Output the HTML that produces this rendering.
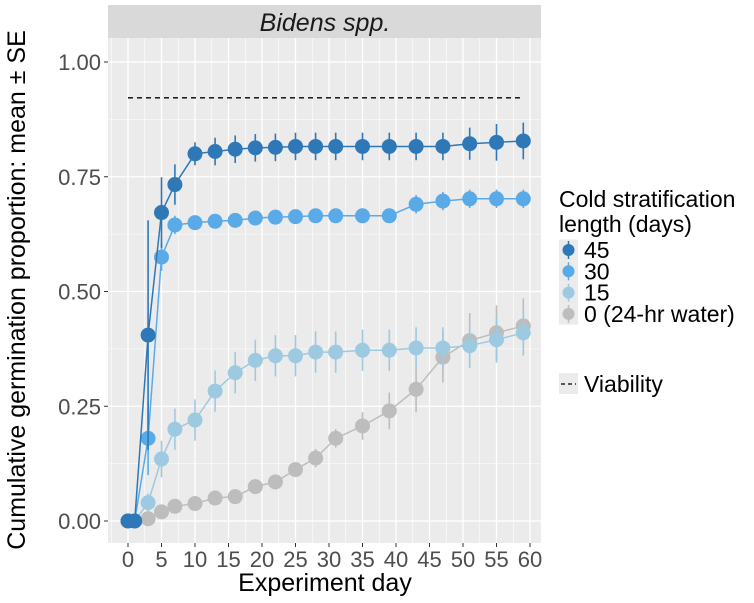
<!DOCTYPE html>
<html><head><meta charset="utf-8"><style>
body{margin:0;background:#fff;}
svg{display:block;font-family:"Liberation Sans",Arial,sans-serif;}
</style></head><body>
<svg id="chart" width="754" height="603" viewBox="0 0 754 603" xmlns="http://www.w3.org/2000/svg">
<rect x="108" y="38" width="433" height="505" fill="#ebebeb"/>
<rect x="108" y="5" width="433" height="33" fill="#d9d9d9"/>
<text x="325" y="31" font-size="25" font-style="italic" text-anchor="middle" fill="#1a1a1a">Bidens spp.</text>
<g id="grid"></g>
<g id="axes"></g>
<g id="series"></g>
<text transform="translate(25,290) rotate(-90)" font-size="25" text-anchor="middle" fill="#000">Cumulative germination proportion: mean ± SE</text>
<text x="325" y="591" font-size="25" text-anchor="middle" fill="#000">Experiment day</text>
<g>
<text x="559" y="207" font-size="23" fill="#000">Cold stratification</text>
<text x="559" y="232" font-size="23" fill="#000">length (days)</text>
<g id="legend-items"></g>
<rect x="559" y="373" width="19" height="21" fill="#ebebeb"/>
<line x1="561" y1="384" x2="576" y2="384" stroke="#000" stroke-width="1.2" stroke-dasharray="4,3"/>
<text x="584" y="392" font-size="23" fill="#000">Viability</text>
</g>
</svg>
<script>
const days = [0,1,3,5,7,10,13,16,19,22,25,28,31,35,39,43,47,51,55,59];
const s45 = [0,0,0.405,0.672,0.733,0.800,0.805,0.810,0.813,0.814,0.816,0.816,0.816,0.816,0.816,0.816,0.816,0.822,0.825,0.828];
const e45 = [0,0,0.25,0.077,0.044,0.025,0.03,0.03,0.03,0.03,0.03,0.03,0.03,0.03,0.03,0.03,0.03,0.035,0.04,0.04];
const s30 = [0,0,0.18,0.575,0.645,0.650,0.653,0.655,0.660,0.662,0.663,0.665,0.665,0.665,0.665,0.690,0.697,0.702,0.702,0.702];
const e30 = [0,0,0.08,0.03,0.02,0.015,0.015,0.015,0.015,0.015,0.015,0.015,0.015,0.015,0.015,0.02,0.02,0.02,0.02,0.02];
const s15 = [0,0,0.04,0.135,0.200,0.220,0.283,0.323,0.350,0.360,0.360,0.368,0.368,0.372,0.372,0.377,0.377,0.382,0.395,0.410];
const e15 = [0,0,0.02,0.04,0.045,0.045,0.045,0.045,0.045,0.045,0.045,0.045,0.045,0.045,0.045,0.045,0.045,0.045,0.05,0.05];
const s0 = [0,0,0.005,0.020,0.032,0.038,0.050,0.053,0.075,0.085,0.112,0.137,0.180,0.207,0.240,0.287,0.357,0.393,0.410,0.425];
const e0 = [0,0,0.005,0.008,0.01,0.01,0.01,0.01,0.012,0.015,0.015,0.02,0.02,0.03,0.04,0.05,0.055,0.06,0.06,0.06];
const viability = 0.922;
const xTicks = [0,5,10,15,20,25,30,35,40,45,50,55,60];
const yTicks = [0,0.25,0.5,0.75,1.0];
const yTickLabels = ["0.00","0.25","0.50","0.75","1.00"];
const legendLabels = ["45","30","15","0 (24-hr water)"];

const NS="http://www.w3.org/2000/svg";
const X = d => 128 + d*(402/60);
const Y = v => 521 - v*459;
function mk(tag, attrs, parent){const e=document.createElementNS(NS,tag);for(const k in attrs)e.setAttribute(k,attrs[k]);parent.appendChild(e);return e;}
const grid=document.getElementById('grid'), axes=document.getElementById('axes'), ser=document.getElementById('series');
for(let v=0.125; v<1.1; v+=0.25){const l=mk('line',{x1:108,x2:541,y1:Y(v),y2:Y(v),stroke:'#fff','stroke-width':0.6},grid);

}
for(let d=-2.5; d<=62.5; d+=5){const x=X(d); if(x<108||x>541)continue; const l=mk('line',{x1:x,x2:x,y1:38,y2:543,stroke:'#fff','stroke-width':0.6},grid);

}
yTicks.forEach((v,i)=>{
 const l=mk('line',{x1:108,x2:541,y1:Y(v),y2:Y(v),stroke:'#fff','stroke-width':1.3},grid);
 
 
 mk('line',{x1:104,x2:108,y1:Y(v),y2:Y(v),stroke:'#333','stroke-width':1},axes);
 const t=mk('text',{x:101,y:Y(v)+8,'font-size':22,'text-anchor':'end',fill:'#4d4d4d'},axes);
 t.textContent=yTickLabels[i];
 
 
});
xTicks.forEach(d=>{
 const l=mk('line',{x1:X(d),x2:X(d),y1:38,y2:543,stroke:'#fff','stroke-width':1.3},grid);
 
 
 mk('line',{x1:X(d),x2:X(d),y1:543,y2:547,stroke:'#333','stroke-width':1},axes);
 const t=mk('text',{x:X(d),y:567,'font-size':22,'text-anchor':'middle',fill:'#4d4d4d'},axes);
 t.textContent=d;
 
 
});
const vl=mk('line',{x1:X(0),x2:X(58.5),y1:Y(viability),y2:Y(viability),stroke:'#000','stroke-width':1.4,'stroke-dasharray':'5,4'},ser);


const series=[
 {name:'0',vals:s0,err:e0,col:'#bdbdbd'},
 {name:'15',vals:s15,err:e15,col:'#9ecae1'},
 {name:'30',vals:s30,err:e30,col:'#5aaae8'},
 {name:'45',vals:s45,err:e45,col:'#2f78b7'}
];
series.forEach(s=>{
 const g=mk('g',{},ser);
 
 
 const p=mk('polyline',{points:days.map((d,i)=>X(d)+','+Y(s.vals[i])).join(' '),fill:'none',stroke:s.col,'stroke-width':1.5},g);
 
 
 days.forEach((d,i)=>{
  const e=mk('line',{x1:X(d),x2:X(d),y1:Y(s.vals[i]+s.err[i]),y2:Y(Math.max(0,s.vals[i]-s.err[i])),stroke:s.col,'stroke-width':1.6},g);
  
  
  const c=mk('circle',{cx:X(d),cy:Y(s.vals[i]),r:7.5,fill:s.col},g);
  
  
 });
});
const li=document.getElementById('legend-items');
const lcols=['#2f78b7','#5aaae8','#9ecae1','#bdbdbd'];
legendLabels.forEach((lab,i)=>{
 const y=250+i*21.3;
 const r=mk('rect',{x:559,y:y-10.5,width:19,height:21.3,fill:'#ebebeb'},li);
 
 
 mk('line',{x1:568.5,x2:568.5,y1:y-9,y2:y+9,stroke:lcols[i],'stroke-width':1.5},li);
 mk('circle',{cx:568.5,cy:y,r:6,fill:lcols[i]},li);
 const t=mk('text',{x:584,y:y+8,'font-size':23,fill:'#000'},li);
 t.textContent=lab;
 
 
});
</script>
</body></html>
